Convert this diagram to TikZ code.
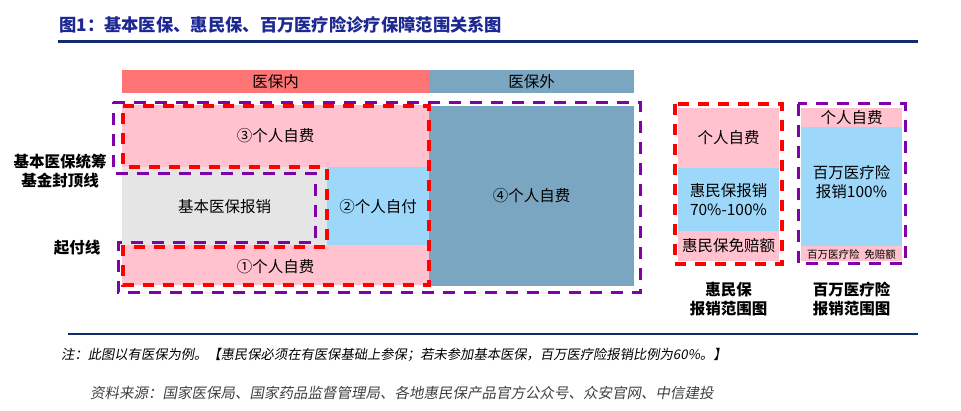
\documentclass[tikz,border=0pt]{standalone}
\usepackage{fontspec}
\newfontfamily\cjk{Noto Sans CJK SC}
\newfontfamily\cjkslant[FakeSlant=0.18]{Noto Sans CJK SC}
\usepackage{xcolor}
\usetikzlibrary{positioning}

\definecolor{titleblue}{RGB}{30,40,145}
\definecolor{rulenavy}{RGB}{16,44,110}
\definecolor{hdrred}{RGB}{255,117,117}
\definecolor{steel}{RGB}{122,166,194}
\definecolor{pinkc}{RGB}{255,194,206}
\definecolor{greyc}{RGB}{229,229,229}
\definecolor{bluec}{RGB}{157,216,250}
\definecolor{dashred}{RGB}{255,0,0}
\definecolor{dashpurp}{RGB}{128,0,170}
\definecolor{srcgrey}{RGB}{64,64,64}

\tikzset{
  celltext/.style={inner sep=0pt, align=center, font=\cjk\fontsize{15.5}{19}\selectfont},
  sidelabel/.style={inner sep=0pt, align=center, font=\cjk\bfseries\fontsize{15.5}{19}\selectfont},
  reddash/.style={draw=dashred, line width=3.3pt, dash pattern=on 11pt off 9pt},
  purpdash/.style={draw=dashpurp, line width=3pt, dash pattern=on 12pt off 9pt},
}

\begin{document}
\begin{tikzpicture}[x=1pt,y=-1pt]
	\useasboundingbox (0,0) rectangle (961,411);
	
	% title and rules
	\node[anchor=west, inner sep=0pt, text=titleblue, font=\cjk\bfseries\fontsize{17.3}{20}\selectfont] (title) at (59,25) {图1：基本医保、惠民保、百万医疗险诊疗保障范围关系图};
	\draw[rulenavy, line width=2.8pt] (58,41.5) -- (918,41.5);
	\draw[rulenavy, line width=2.8pt] (68,334) -- (918,334);
	
	% header bars
	\fill[hdrred] (122,70) rectangle (429,93);
	\fill[steel] (429,70) rectangle (634,93);
	\node[celltext] (inside) at (275.5,81.5) {医保内};
	\node[celltext] (outside) at (531.5,81.5) {医保外};
	
	% main cells
	\fill[pinkc] (122,105) rectangle (429,167);
	\fill[greyc] (122,167) rectangle (327,245);
	\fill[bluec] (327,167) rectangle (429,245);
	\fill[pinkc] (122,245) rectangle (429,285);
	\fill[steel] (429,106) rectangle (634,286);
	\node[celltext] (self3) at (275.5,136) {③个人自费};
	\node[celltext] (basic) at (224.5,207) {基本医保报销};
	\node[celltext] (self2) at (378,207) {②个人自付};
	\node[celltext] (self1) at (275.5,267) {①个人自费};
	\node[celltext] (self4) at (531.5,196) {④个人自费};
	
	% dashed outlines
	\draw[purpdash] (113,102.5) -- (640,102.5) -- (640,293) -- (118,293) -- (118,243)
		-- (315,243) -- (315,174) -- (113,174) -- cycle;
	\draw[reddash] (123,106) -- (429,106) -- (429,285) -- (123,285) -- (123,247)
		-- (327,247) -- (327,167) -- (123,167) -- cycle;
	
	% side labels
	\node[sidelabel] (cap) at (60,171) {基本医保统筹\\基金封顶线};
	\node[sidelabel] (deduct) at (77,248) {起付线};
	
	% huiminbao range
	\fill[pinkc] (678,108) rectangle (779,168);
	\fill[bluec] (678,168) rectangle (779,231);
	\fill[pinkc] (678,231) rectangle (779,261);
	\draw[reddash] (675,104) rectangle (782,264);
	\node[celltext] (hselfpay) at (728.5,138) {个人自费};
	\node[celltext] (hrepay) at (728.5,199.5) {惠民保报销\\70\%-100\%};
	\node[celltext] (hdeduct) at (728.5,246) {惠民保免赔额};
	\node[sidelabel] (hname) at (728.5,299) {惠民保\\报销范围图};
	
	% million medical insurance range
	\fill[pinkc] (801,108) rectangle (902,127);
	\fill[bluec] (801,127) rectangle (902,246);
	\fill[pinkc] (801,246) rectangle (902,261);
	\draw[purpdash] (798,104) rectangle (905,264);
	\node[celltext] (mselfpay) at (851.5,118) {个人自费};
	\node[celltext] (mrepay) at (851.5,182) {百万医疗险\\报销100\%};
	\node[inner sep=0pt, font=\cjk\fontsize{10.5}{12}\selectfont] (mdeduct) at (851.5,254) {百万医疗险\ \ 免赔额};
	\node[sidelabel] (mname) at (851.5,299) {百万医疗险\\报销范围图};
	
	% note and source
	\node[anchor=west, inner sep=0pt, font=\cjkslant\fontsize{13.3}{15}\selectfont] (note) at (61,355) {注：此图以有医保为例。【惠民保必须在有医保基础上参保；若未参加基本医保，百万医疗险报销比例为60\%。】};
	\node[anchor=west, inner sep=0pt, text=srcgrey, font=\cjkslant\fontsize{14.5}{16}\selectfont] (source) at (90,393) {资料来源：国家医保局、国家药品监督管理局、各地惠民保产品官方公众号、众安官网、中信建投};
\end{tikzpicture}
\end{document}
